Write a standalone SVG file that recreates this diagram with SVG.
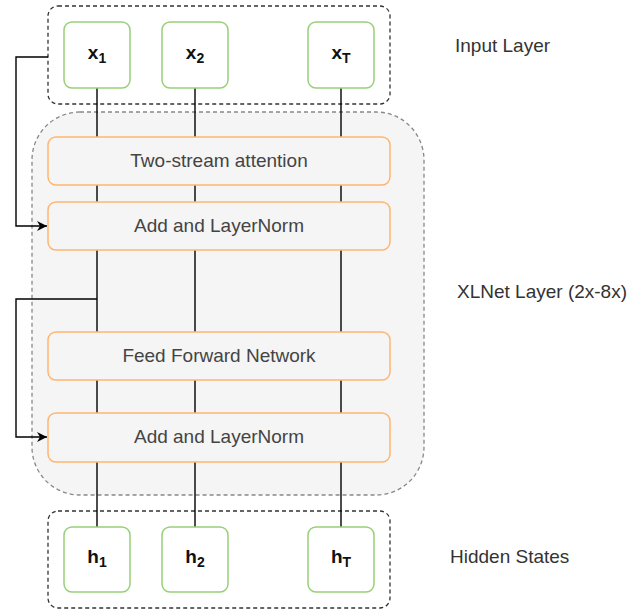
<svg xmlns="http://www.w3.org/2000/svg" width="631" height="611" viewBox="0 0 631 611">
<defs>
<style>
.grp{fill:none;stroke:#333;stroke-width:1.3;stroke-dasharray:4 3}
.layer{fill:#f5f5f5;stroke:#888;stroke-width:1.3;stroke-dasharray:4 3}
.tok{fill:#fff;stroke:#97d077;stroke-width:1.5}
.blk{fill:#f5f5f5;stroke:#ffb570;stroke-width:1.5}
.t{font-family:"Liberation Sans",Arial,sans-serif;font-size:19px;fill:#444;text-anchor:middle;dominant-baseline:central}
.lbl{font-family:"Liberation Sans",Arial,sans-serif;font-size:19px;fill:#333}
.v{font-family:"Liberation Sans",Arial,sans-serif;font-size:19px;font-weight:bold;fill:#111;text-anchor:middle}
.sub{font-size:14px}
.c{fill:none;stroke:#000;stroke-width:1.4}
</style>
<marker id="arr" viewBox="0 0 10 10" refX="10" refY="5" markerWidth="10" markerHeight="10" markerUnits="userSpaceOnUse" orient="auto">
<path d="M0,0 L10,5 L0,10 L3,5 z" fill="#000"/>
</marker>
</defs>
<rect width="631" height="611" fill="#fff"/>
<g id="input-layer"><rect class="grp" x="48" y="6" width="342" height="98" rx="10"/></g>
<g id="xlnet-layer"><rect class="layer" x="32" y="112" width="392" height="383" rx="48"/></g>
<g id="hidden-states"><rect class="grp" x="48" y="511" width="342" height="97" rx="10"/></g>
<g id="connectors">
<line class="c" x1="97" y1="88" x2="97" y2="527"/>
<line class="c" x1="195" y1="88" x2="195" y2="527"/>
<line class="c" x1="341" y1="88" x2="341" y2="527"/>
<path class="c" d="M48,57 H16 V226 H47" marker-end="url(#arr)"/>
<path class="c" d="M97,299 H16 V437 H47" marker-end="url(#arr)"/>
</g>
<g id="x1"><rect class="tok" x="64" y="22" width="66" height="66" rx="8"/><text class="v" x="97" y="59">x<tspan class="sub" dy="4">1</tspan></text></g>
<g id="x2"><rect class="tok" x="162" y="22" width="66" height="66" rx="8"/><text class="v" x="195" y="59">x<tspan class="sub" dy="4">2</tspan></text></g>
<g id="xT"><rect class="tok" x="308" y="22" width="66" height="66" rx="8"/><text class="v" x="341" y="59">x<tspan class="sub" dy="4">T</tspan></text></g>
<g id="two-stream"><rect class="blk" x="48" y="137" width="342" height="48" rx="8"/><text class="t" x="219" y="160">Two-stream attention</text></g>
<g id="addnorm1"><rect class="blk" x="48" y="202" width="342" height="48" rx="8"/><text class="t" x="219" y="225">Add and LayerNorm</text></g>
<g id="ffn"><rect class="blk" x="48" y="332" width="342" height="48" rx="8"/><text class="t" x="219" y="355">Feed Forward Network</text></g>
<g id="addnorm2"><rect class="blk" x="48" y="413" width="342" height="49" rx="8"/><text class="t" x="219" y="436">Add and LayerNorm</text></g>
<g id="h1"><rect class="tok" x="64" y="527" width="66" height="65" rx="8"/><text class="v" x="97" y="563">h<tspan class="sub" dy="4">1</tspan></text></g>
<g id="h2"><rect class="tok" x="162" y="527" width="66" height="65" rx="8"/><text class="v" x="195" y="563">h<tspan class="sub" dy="4">2</tspan></text></g>
<g id="hT"><rect class="tok" x="308" y="527" width="66" height="65" rx="8"/><text class="v" x="341" y="563">h<tspan class="sub" dy="4">T</tspan></text></g>
<g id="labels">
<text class="lbl" x="455" y="52">Input Layer</text>
<text class="lbl" x="457" y="298">XLNet Layer (2x-8x)</text>
<text class="lbl" x="450" y="563">Hidden States</text>
</g>
</svg>
